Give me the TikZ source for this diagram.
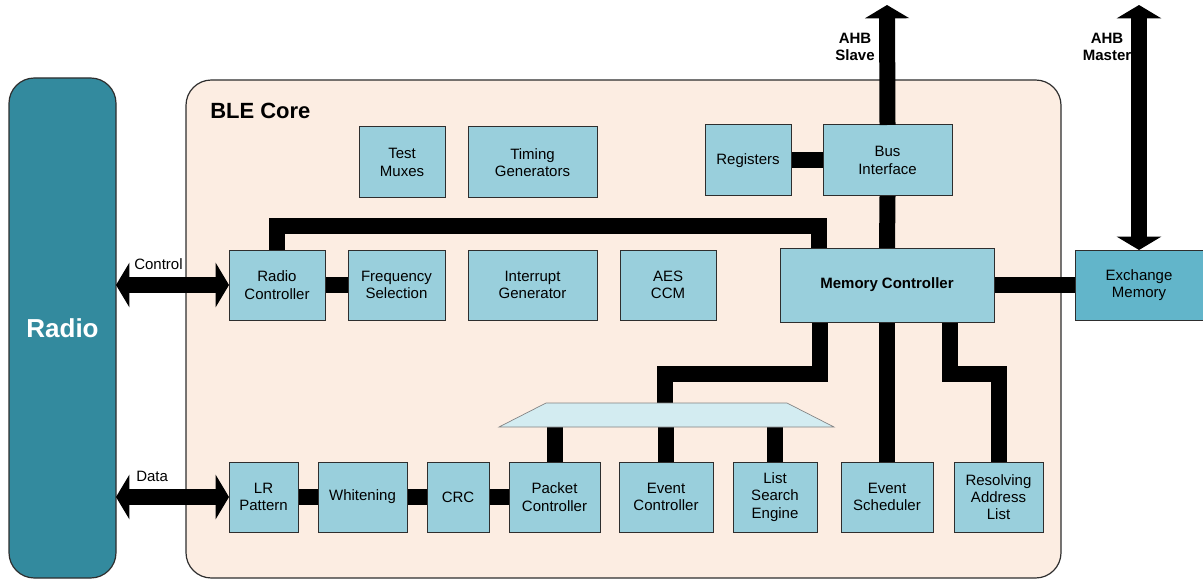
\documentclass[tikz,border=0pt]{standalone}
\usepackage{fontspec}
\setmainfont{Liberation Sans}
\usetikzlibrary{arrows.meta,calc}
\definecolor{radiofill}{HTML}{338A9E}
\definecolor{corefill}{HTML}{FCEDE2}
\definecolor{boxfill}{HTML}{99CFDC}
\definecolor{emfill}{HTML}{62B5CA}
\definecolor{muxfill}{HTML}{D3ECF1}
\definecolor{edge}{HTML}{2E2E2E}
\pgfdeclarelayer{bga}\pgfdeclarelayer{bgb}\pgfsetlayers{bga,bgb,main}
\newcommand\blk[7][]{\node[box,#1,minimum width={(#5-#3)*0.75pt},minimum height={(#6-#4)*0.75pt}] (#2) at ({(#3+#5)/2},{(#4+#6)/2}) {#7};}
\tikzset{
  box/.style={draw=edge, line width=0.75pt, fill=boxfill, inner sep=0pt, outer sep=0pt, align=center,
    font=\fontsize{11.25}{13}\selectfont},
  bus/.style={line width=12pt, black, line join=miter},
  lbl/.style={inner sep=0pt, align=center, font=\fontsize{11.25}{13}\selectfont},
  dbl/.style={line width=12pt, {Triangle[width=33pt,length=10pt]}-{Triangle[width=33pt,length=10pt]}},
  sgl/.style={line width=12pt, -{Triangle[width=33pt,length=10pt]}},
}
\begin{document}
\begin{tikzpicture}[x=0.75pt,y=-0.75pt]
\useasboundingbox (0,0) rectangle (1203,581);
\begin{pgfonlayer}{bga}
\node[draw=edge, line width=0.9pt, fill=corefill, rounded corners=19pt, minimum width={875*0.75pt}, minimum height={498*0.75pt}, inner sep=0pt, outer sep=0pt] (core) at (623.5,329) {};
\end{pgfonlayer}
\node[anchor=west, inner sep=0pt, font=\fontsize{16.5}{18}\selectfont\bfseries] (coret) at (210,111) {BLE Core};
\node[draw=edge, line width=0.9pt, fill=radiofill, rounded corners=19pt, minimum width={107*0.75pt}, minimum height={500*0.75pt}, inner sep=0pt, outer sep=0pt, text=white, font=\fontsize{19.5}{22}\selectfont\bfseries] (radio) at (62.5,328) {Radio};

\blk{tm}{359}{127}{445}{198}{Test\\Muxes}
\blk{tg}{468}{127}{597}{198}{Timing\\Generators}
\blk{reg}{705}{125}{791}{196}{Registers}
\blk{bi}{823}{125}{952}{196}{Bus\\Interface}
\blk{rc}{229}{250}{325}{320}{Radio\\Controller}
\blk{fs}{348}{250}{445}{320}{Frequency\\Selection}
\blk{ig}{468}{250}{597}{320}{Interrupt\\Generator}
\blk{aes}{620}{250}{716}{320}{AES\\CCM}
\blk{mc}{780}{248}{994}{322}{\textbf{Memory Controller}}
\blk[fill=emfill]{em}{1075}{250}{1203}{320}{Exchange\\Memory}
\blk{lr}{229}{462}{298}{532}{LR\\Pattern}
\blk{wh}{318}{462}{407}{532}{Whitening}
\blk{crc}{427}{462}{489}{532}{CRC}
\blk{pc}{509}{462}{600}{532}{Packet\\Controller}
\blk{ec}{619}{462}{713}{532}{Event\\Controller}
\blk{lse}{733}{462}{817}{532}{List\\Search\\Engine}
\blk{es}{841}{462}{933}{532}{Event\\Scheduler}
\blk{ral}{954}{462}{1043}{532}{Resolving\\Address\\List}

% mux trapezoid
\path[draw=edge!60, line width=0.5pt, fill=muxfill] (499,427) -- (546,403) -- (787,403) -- (834,427) -- cycle;
\coordinate (muxtop) at (665,403);
\coordinate (muxbot) at (665,427);

\begin{pgfonlayer}{bgb}
\draw[bus] (rc.east) -- (fs.west);
\draw[bus] (reg.east) -- (bi.west);
\draw[bus] (bi.south) -- (mc.north);
\draw[bus] (mc.east) -- (em.west);
\draw[bus] (rc.north) -- ++(0,-24) -| ($(mc.north)+(-68,0)$);
\draw[bus] ($(mc.south)+(-67,0)$) -- ++(0,52) -| (muxtop);
\draw[bus] (mc.south) -- (es.north);
\draw[bus] ($(mc.south)+(63,0)$) -- ++(0,52) -| (ral.north);
\draw[bus] (pc.north) -- (pc.north |- muxbot);
\draw[bus] (ec.north) -- (ec.north |- muxbot);
\draw[bus] (lse.north) -- (lse.north |- muxbot);
\draw[bus] (lr.east) -- (wh.west);
\draw[bus] (wh.east) -- (crc.west);
\draw[bus] (crc.east) -- (pc.west);
\end{pgfonlayer}

% external arrows
\coordinate (slv) at (887,5);
\coordinate (mst) at (1139,5);
\node[lbl, font=\fontsize{11.25}{13}\selectfont\bfseries] (ahbs) at (855,47) {AHB\\Slave};
\node[lbl, font=\fontsize{11.25}{13}\selectfont\bfseries] (ahbm) at (1107,47) {AHB\\Master};
\draw[sgl] (bi.north) -- (slv);
\draw[dbl] (em.north) -- (mst);
\draw[dbl] (radio.east |- rc.west) -- (rc.west);
\draw[dbl] (radio.east |- lr.west) -- (lr.west);
\node[lbl, anchor=west] (ctl) at (134,264) {Control};
\node[lbl, anchor=west] (dat) at (136,476) {Data};
\end{tikzpicture}
\end{document}
